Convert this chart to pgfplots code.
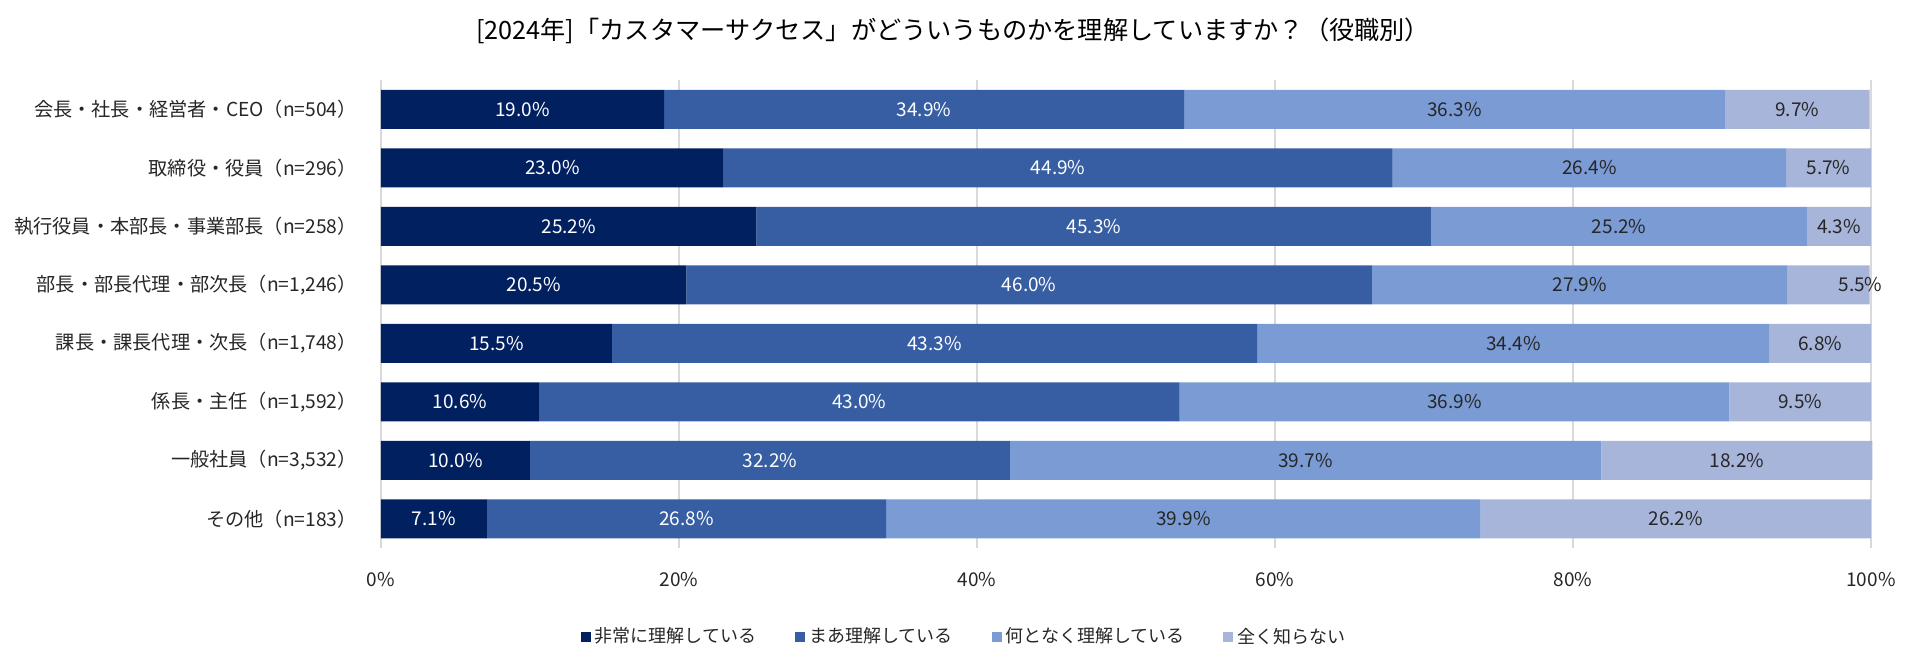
\documentclass[border=0pt]{standalone}
\usepackage{pgfplots}
\pgfplotsset{compat=1.18}
\usepackage{pgfplotstable}
\usepackage{fontspec}
\setmainfont{Noto Sans CJK JP}
\definecolor{cA}{HTML}{002060}
\definecolor{cB}{HTML}{375EA2}
\definecolor{cC}{HTML}{7A9BD4}
\definecolor{cD}{HTML}{A8B5DB}
\definecolor{txt}{HTML}{262626}
\definecolor{gridc}{HTML}{D9D9D9}

% last column: label of series d, with an optional label offset in pt after ':'
\pgfplotstableread{
idx a b c d dm
0 19.0 34.9 36.3 9.7 9.7
1 23.0 44.9 26.4 5.7 5.7
2 25.2 45.3 25.2 4.3 4.3
3 20.5 46.0 27.9 5.5 5.5:16
4 15.5 43.3 34.4 6.8 6.8
5 10.6 43.0 36.9 9.5 9.5
6 10.0 32.2 39.7 18.2 18.2
7 7.1 26.8 39.9 26.2 26.2
}\data

\newdimen\labshift
\def\splitmeta#1:#2:#3\relax{\def\labv{#1}\def\labs{#2}}
\def\seglabel{%
  \expandafter\splitmeta\pgfplotspointmeta:0:\relax
  \labshift=\labs pt
  \labshift=2\labshift
  \makebox[0pt]{\hspace*{\labshift}\labv\%}}
\pgfplotsset{
  lab/.style={
    point meta=explicit symbolic,
    nodes near coords={\seglabel},
    every node near coord/.style={anchor=center, inner sep=0pt,
      font=\fontsize{9.5pt}{11pt}\selectfont, text=#1},
  }
}

\begin{document}
\begin{tikzpicture}
\begin{axis}[
  at={(0,0)}, anchor=south west,
  scale only axis, width=745pt, height=234pt,
  xbar stacked, bar width=19.5pt,
  xmin=0, xmax=100, ymin=-0.5, ymax=7.5,
  y dir=reverse, clip=false,
  axis line style={draw=none},
  tick style={draw=none},
  xmajorgrids, grid style={gridc, line width=0.75pt},
  xtick={0,20,...,100},
  xticklabel={\pgfmathprintnumber{\tick}\%},
  /pgf/number format/assume math mode=true,
  xticklabel style={anchor=center, inner sep=0pt, yshift=-16pt,
    font=\fontsize{9.5pt}{11pt}\selectfont, text=txt},
  ytick={0,...,7},
  yticklabels={
    {会長・社長・経営者・CEO（n=504）},
    {取締役・役員（n=296）},
    {執行役員・本部長・事業部長（n=258）},
    {部長・部長代理・部次長（n=1,246）},
    {課長・課長代理・次長（n=1,748）},
    {係長・主任（n=1,592）},
    {一般社員（n=3,532）},
    {その他（n=183）}},
  yticklabel style={anchor=east, inner sep=0pt, xshift=-12pt,
    font=\fontsize{9.6pt}{11pt}\selectfont, text=txt},
  major tick length=0pt,
  title={[2024年]「カスタマーサクセス」がどういうものかを理解していますか？（役職別）},
  title style={at={(0.384,1.079)}, anchor=center, inner sep=0pt,
    font=\fontsize{12.6pt}{14pt}\selectfont, text=black},
  legend columns=4,
  legend style={at={(0.392,-0.190)}, anchor=center, draw=none, fill=none,
    font=\fontsize{9pt}{11pt}\selectfont, text=txt,
    /tikz/every even column/.append style={column sep=17.5pt},
    inner sep=0pt},
  legend image code/.code={\fill[#1,draw=none] (0pt,-2.5pt) rectangle (5pt,2.5pt);},
  legend cell align=left,
]
\addplot[fill=cA, draw=none, lab=white] table[x=a, y=idx, meta=a] {\data};
\addplot[fill=cB, draw=none, lab=white] table[x=b, y=idx, meta=b] {\data};
\addplot[fill=cC, draw=none, lab=txt] table[x=c, y=idx, meta=c] {\data};
\addplot[fill=cD, draw=none, lab=txt] table[x=d, y=idx, meta=dm] {\data};
\legend{非常に理解している, まあ理解している, 何となく理解している, 全く知らない}
\end{axis}
\pgfresetboundingbox
\path (-190.5pt,-52pt) rectangle (763pt,274pt);
\end{tikzpicture}
\end{document}
